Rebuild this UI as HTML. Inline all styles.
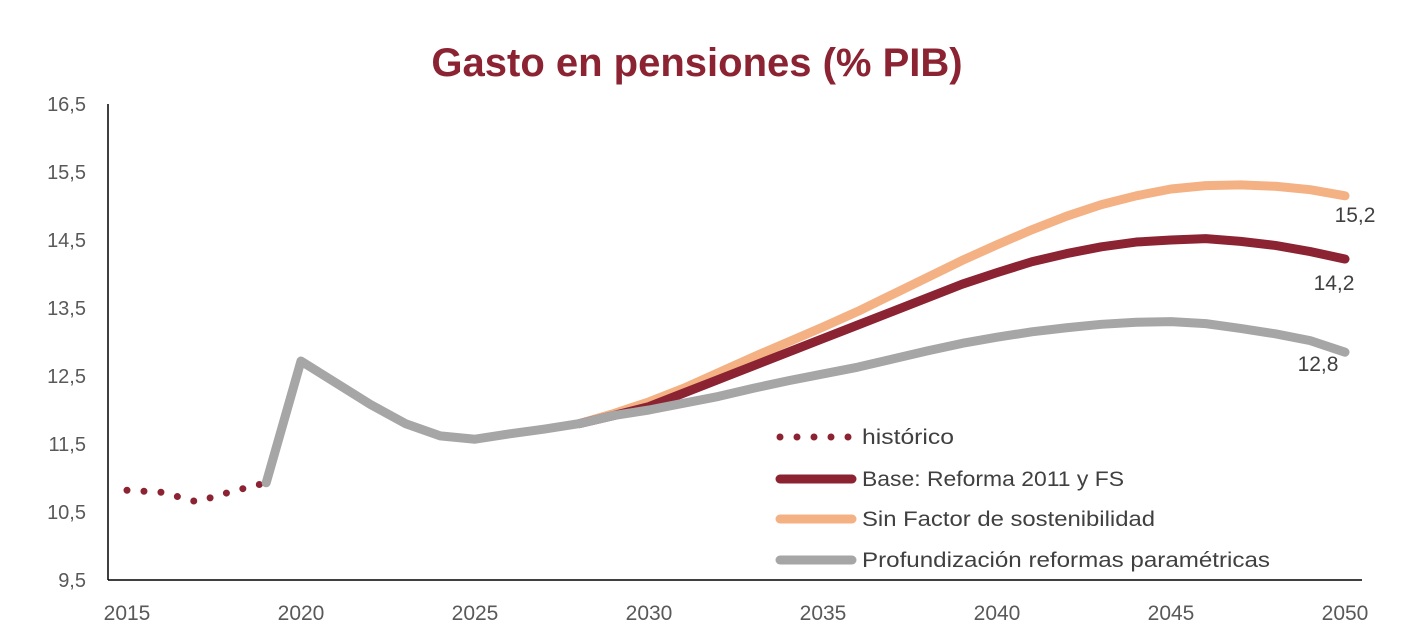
<!DOCTYPE html>
<html><head><meta charset="utf-8"><style>
body{margin:0;background:#fff;}
svg{display:block;font-family:"Liberation Sans",Calibri,sans-serif;}
</style></head><body>
<svg id="chart" width="1426" height="643">
<text x="697" y="76" text-anchor="middle" font-size="40" font-weight="bold" fill="#8B2332">Gasto en pensiones (% PIB)</text>
<g id="axes"></g><g id="series"></g><g id="legend"></g>
</svg>
<script>
const historico=[10.82,10.79,10.65,10.8,10.93];
const common=[10.93,12.72,12.4,12.08,11.8,11.62,11.57,11.65,11.72,11.8];
const baseTail=[11.8,11.92,12.05,12.25,12.45,12.65,12.85,13.05,13.25,13.45,13.65,13.85,14.02,14.18,14.3,14.4,14.47,14.5,14.52,14.48,14.42,14.33,14.22];
const sinFSTail=[11.8,11.95,12.12,12.32,12.55,12.78,13.0,13.22,13.45,13.7,13.95,14.2,14.43,14.65,14.85,15.02,15.15,15.25,15.3,15.31,15.29,15.24,15.15];
const profTail=[11.8,11.92,12.0,12.1,12.2,12.32,12.43,12.53,12.63,12.75,12.87,12.98,13.07,13.15,13.21,13.26,13.29,13.3,13.27,13.2,13.12,13.02,12.85];
const yTicks=[9.5,10.5,11.5,12.5,13.5,14.5,15.5,16.5];
const xTicks=[2015,2020,2025,2030,2035,2040,2045,2050];
const endLabels=["15,2","14,2","12,8"];
const NS="http://www.w3.org/2000/svg";
const X=y=>127+(y-2015)*(1345-127)/35;
const Y=v=>580-(v-9.5)*68;
function mk(t,a,p){const e=document.createElementNS(NS,t);for(const k in a)e.setAttribute(k,a[k]);p.appendChild(e);return e;}
const ax=document.getElementById('axes');
let l=mk('line',{x1:108,y1:104,x2:108,y2:580,stroke:'#000','stroke-width':1.5},ax);


l=mk('line',{x1:108,y1:580,x2:1362,y2:580,stroke:'#000','stroke-width':1.5},ax);


yTicks.forEach(v=>{const t=mk('text',{x:86,y:Y(v)+7,'text-anchor':'end','font-size':20,fill:'#595959'},ax);t.textContent=String(v).replace('.',',');

});
xTicks.forEach(v=>{const t=mk('text',{x:X(v),y:620,'text-anchor':'middle','font-size':21,fill:'#595959'},ax);t.textContent=v;

});
const sg=document.getElementById('series');
function pts(start,vals){return vals.map((v,i)=>X(start+i)+','+Y(v)).join(' ');}
function line(start,vals,col,name,dash){const p=mk('polyline',{points:pts(start,vals),fill:'none',stroke:col,'stroke-width':dash?7:9,'stroke-linejoin':'round','stroke-linecap':'round'},sg);if(dash)p.setAttribute('stroke-dasharray','0 17');

}
line(2015,historico,'#8B2332','historico-line',true);
line(2028,sinFSTail,'#F4B183','sin-factor-line');
line(2028,baseTail,'#8B2332','base-line');
line(2028,profTail,'#A6A6A6','profundizacion-line');
line(2019,common,'#A6A6A6','common-projection-line');
const ep=[[1355,222],[1334,290],[1318,371]];
endLabels.forEach((s,i)=>{const t=mk('text',{x:ep[i][0],y:ep[i][1],'text-anchor':'middle','font-size':21,fill:'#404040'},sg);t.textContent=s;

});
const lg=document.getElementById('legend');
const items=[['histórico','#8B2332',true,92],['Base: Reforma 2011 y FS','#8B2332',false,262],['Sin Factor de sostenibilidad','#F4B183',false,293],['Profundización reformas paramétricas','#A6A6A6',false,408]];
const ly=[437,479,519,560];
items.forEach((it,i)=>{const g=mk('g',{},lg);


const ln=mk('line',{x1:780,y1:ly[i],x2:852,y2:ly[i],stroke:it[1],'stroke-width':it[2]?7:9,'stroke-linecap':'round'},g);if(it[2])ln.setAttribute('stroke-dasharray','0 17');
const t=mk('text',{x:862,y:ly[i]+7,'font-size':21,fill:'#404040',textLength:it[3],lengthAdjust:'spacingAndGlyphs'},g);t.textContent=it[0];});
</script>
</body></html>
